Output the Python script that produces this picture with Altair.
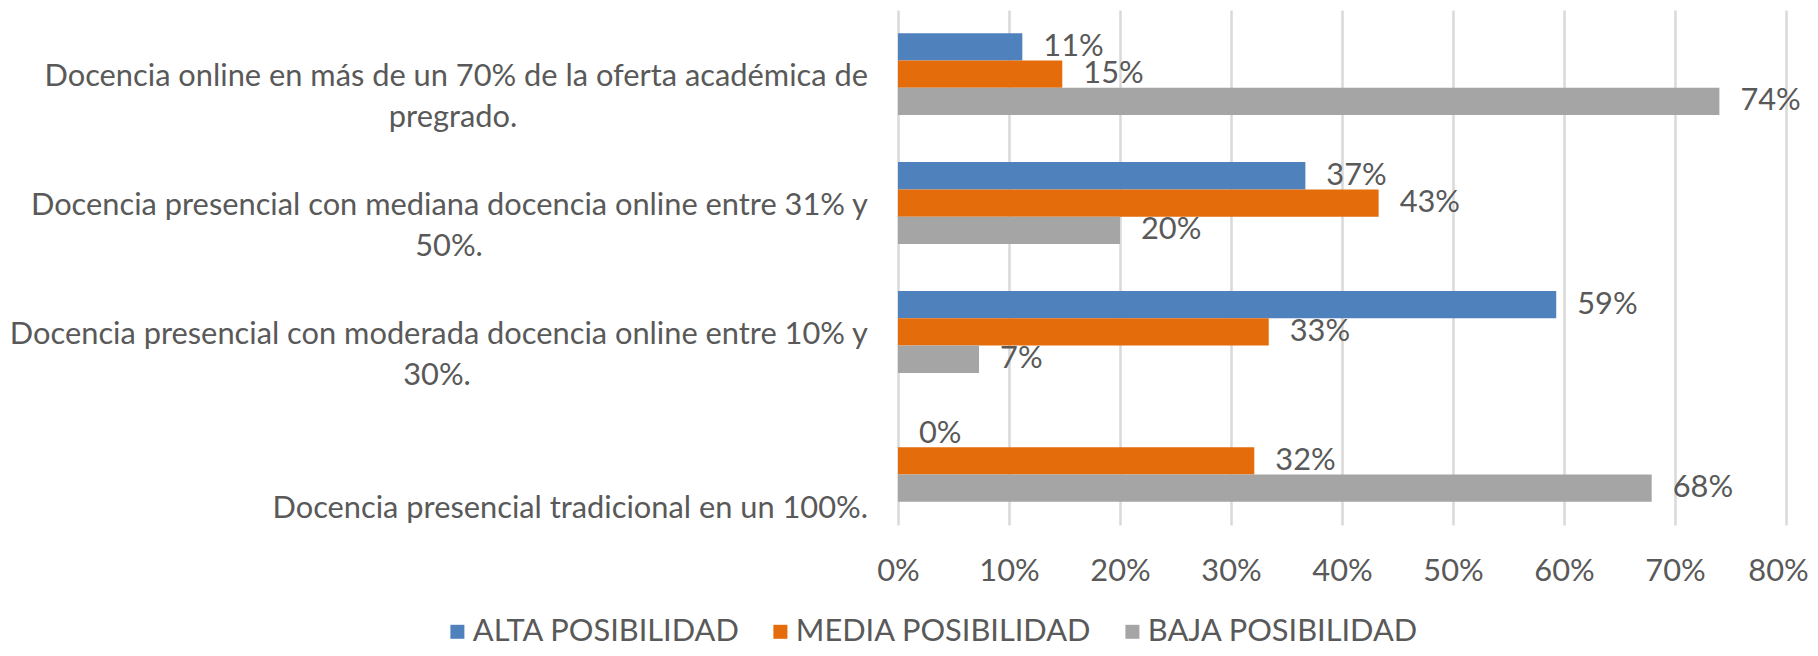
import altair as alt
import pandas as pd

categories = [
    "Docencia online en más de un 70% de la oferta académica de pregrado.",
    "Docencia presencial con mediana docencia online entre 31% y 50%.",
    "Docencia presencial con moderada docencia online entre 10% y 30%.",
    "Docencia presencial tradicional en un 100%.",
]
label_line1 = [
    "Docencia online en más de un 70% de la oferta académica de",
    "Docencia presencial con mediana docencia online entre 31% y",
    "Docencia presencial con moderada docencia online entre 10% y",
    "Docencia presencial tradicional en un 100%.",
]
label_line2 = ["pregrado.", "50%.", "30%.", ""]

series = ["ALTA POSIBILIDAD", "MEDIA POSIBILIDAD", "BAJA POSIBILIDAD"]
alta = [0.112, 0.367, 0.593, 0.0]
media = [0.148, 0.433, 0.334, 0.321]
baja = [0.740, 0.200, 0.073, 0.679]
colors = ["#4F81BD", "#E46C0A", "#A5A5A5"]
x_ticks = [0.0, 0.1, 0.2, 0.3, 0.4, 0.5, 0.6, 0.7, 0.8]

FONT = "Lato"
FS = 30.8
TXT = "#595959"

rows = []
for i, c in enumerate(categories):
    for s, vals in zip(series, [alta, media, baja]):
        rows.append({"cat": c, "series": s, "value": vals[i]})
df = pd.DataFrame(rows)

labels = pd.DataFrame({"cat": categories, "line1": label_line1, "line2": label_line2})

y_enc = alt.Y("cat:N", scale=alt.Scale(domain=categories, paddingInner=0.365, paddingOuter=0.18), axis=None)
yoff_enc = alt.YOffset("series:N", scale=alt.Scale(domain=series, paddingInner=0, paddingOuter=0))

bars = alt.Chart(df).mark_bar().encode(
    x=alt.X(
        "value:Q",
        scale=alt.Scale(domain=[0, 0.8], nice=False, zero=True),
        axis=alt.Axis(
            values=x_ticks, format=".0%", title=None, grid=True, gridColor="#D9D9D9",
            gridWidth=2.5, domain=False, ticks=False, tickSize=0, labelPadding=31,
            labelFlush=False, labelOverlap=False, labelBound=False,
            labelOffset={"condition": {"test": "datum.value >= 0.79", "value": -8}, "value": 0},
            labelFont=FONT, labelFontSize=FS, labelColor=TXT,
        ),
    ),
    y=y_enc,
    yOffset=yoff_enc,
    color=alt.Color(
        "series:N",
        scale=alt.Scale(domain=series, range=colors),
        legend=alt.Legend(
            orient="none", legendX=-456, legendY=606, direction="horizontal", title=None,
            symbolType="square", symbolSize=196, symbolStrokeWidth=0, symbolOpacity=1,
            labelFont=FONT, labelFontSize=FS, labelColor=TXT, labelOffset=0,
            labelLimit=0, columnPadding=25, padding=0,
        ),
    ),
)

values_txt = alt.Chart(df).mark_text(
    align="left", baseline="middle", dx=21, font=FONT, fontSize=FS, color=TXT
).encode(
    x=alt.X("value:Q"),
    y=y_enc,
    yOffset=yoff_enc,
    text=alt.Text("value:Q", format=".0%"),
)

base_lbl = alt.Chart(labels)

line1_a = base_lbl.transform_filter(
    alt.FieldOneOfPredicate(field="cat", oneOf=categories[:3])
).mark_text(align="right", baseline="middle", dy=3, font=FONT, fontSize=FS, color=TXT).encode(
    x=alt.value(-30), y=y_enc, text="line1:N"
)
line1_b = base_lbl.transform_filter(
    alt.FieldEqualPredicate(field="cat", equal=categories[3])
).mark_text(align="right", baseline="middle", dy=48, font=FONT, fontSize=FS, color=TXT).encode(
    x=alt.value(-30), y=y_enc, text="line1:N"
)

line2_centers = [-445, -449, -461]
line2_layers = []
for c, xc in zip(categories[:3], line2_centers):
    line2_layers.append(
        base_lbl.transform_filter(alt.FieldEqualPredicate(field="cat", equal=c))
        .mark_text(align="center", baseline="middle", dy=44, font=FONT, fontSize=FS, color=TXT)
        .encode(x=alt.value(xc), y=y_enc, text="line2:N")
    )

chart = alt.layer(bars, values_txt, line1_a, line1_b, *line2_layers).properties(
    width=888,
    height=515,
    autosize=alt.AutoSizeParams(type="none"),
    padding={"left": 890, "top": 2, "right": 24, "bottom": 123},
).configure_view(stroke=None)

chart.save("out.html", embed_options={"renderer": "svg", "actions": False})
